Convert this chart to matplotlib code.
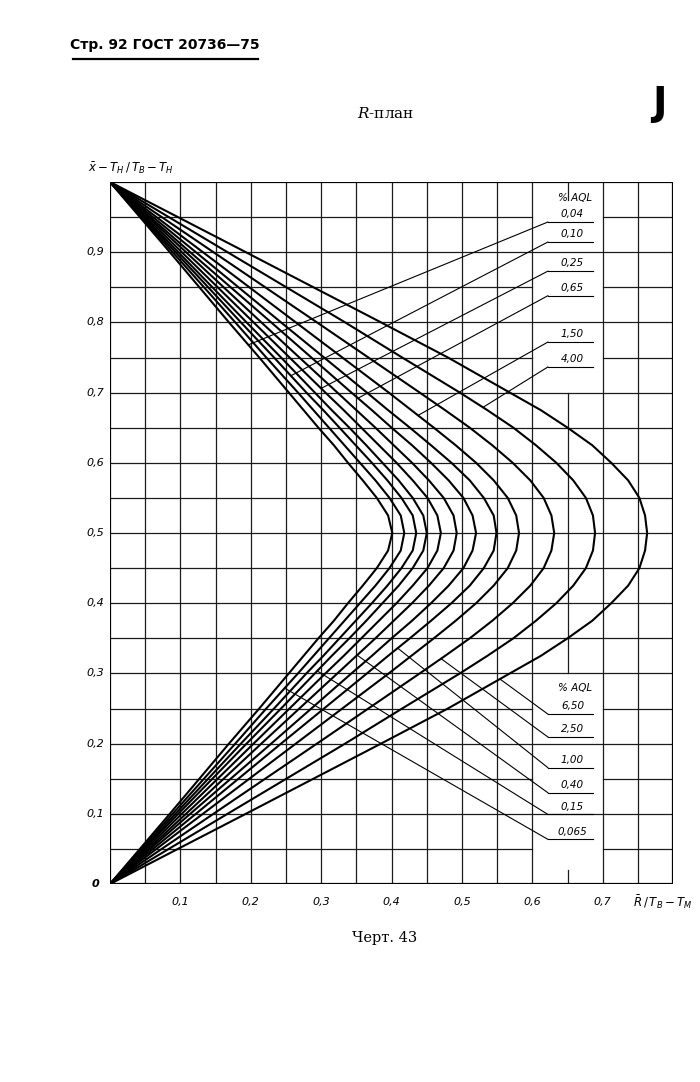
import numpy as np
import matplotlib
matplotlib.use("Agg")
import matplotlib.pyplot as plt

# ---------------- data ----------------
# lower half of each curve; the chart is symmetric about y = 0.5
Y_LEVELS = [0.0, 0.1, 0.2, 0.25, 0.3, 0.325, 0.35, 0.375, 0.4, 0.425, 0.45,
            0.475, 0.5]

r_004  = [0, 0.085, 0.169, 0.212, 0.254, 0.275, 0.296, 0.318, 0.338, 0.359, 0.379, 0.395, 0.401]
r_0065 = [0, 0.089, 0.178, 0.222, 0.267, 0.289, 0.311, 0.333, 0.355, 0.377, 0.397, 0.413, 0.418]
r_010  = [0, 0.093, 0.186, 0.233, 0.279, 0.303, 0.326, 0.349, 0.372, 0.394, 0.414, 0.430, 0.435]
r_015  = [0, 0.097, 0.194, 0.243, 0.291, 0.315, 0.340, 0.364, 0.387, 0.410, 0.430, 0.445, 0.450]
r_025  = [0, 0.102, 0.204, 0.255, 0.306, 0.332, 0.357, 0.382, 0.407, 0.430, 0.451, 0.465, 0.470]
r_040  = [0, 0.108, 0.215, 0.269, 0.323, 0.350, 0.377, 0.403, 0.429, 0.453, 0.474, 0.488, 0.4925]
r_065  = [0, 0.114, 0.229, 0.286, 0.343, 0.372, 0.400, 0.429, 0.456, 0.481, 0.502, 0.515, 0.520]
r_100  = [0, 0.122, 0.243, 0.304, 0.365, 0.395, 0.426, 0.456, 0.485, 0.511, 0.531, 0.545, 0.549]
r_150  = [0, 0.132, 0.264, 0.330, 0.396, 0.428, 0.460, 0.491, 0.520, 0.545, 0.565, 0.577, 0.581]
r_250  = [0, 0.147, 0.294, 0.367, 0.440, 0.476, 0.511, 0.543, 0.572, 0.597, 0.616, 0.627, 0.631]
r_400  = [0, 0.167, 0.334, 0.415, 0.497, 0.536, 0.573, 0.605, 0.634, 0.658, 0.676, 0.686, 0.689]
r_650  = [0, 0.193, 0.385, 0.480, 0.568, 0.612, 0.650, 0.685, 0.712, 0.736, 0.752, 0.760, 0.763]

CURVES = {"0,04": r_004, "0,065": r_0065, "0,10": r_010, "0,15": r_015,
          "0,25": r_025, "0,40": r_040, "0,65": r_065, "1,00": r_100,
          "1,50": r_150, "2,50": r_250, "4,00": r_400, "6,50": r_650}

# labels at the upper right (leaders go to the upper branches)
TOP_LABELS = ["0,04", "0,10", "0,25", "0,65", "1,50", "4,00"]
TOP_UL_Y = [0.943, 0.9145, 0.873, 0.838, 0.772, 0.7365]
TOP_TIP_Y = [0.768, 0.724, 0.706, 0.692, 0.6675, 0.679]
# labels at the lower right (leaders go to the lower branches)
BOT_LABELS = ["6,50", "2,50", "1,00", "0,40", "0,15", "0,065"]
BOT_UL_Y = [0.242, 0.2094, 0.1657, 0.130, 0.0991, 0.0636]
BOT_TIP_Y = [0.292, 0.321, 0.336, 0.326, 0.3035, 0.279]

X_TICKS = [0.1, 0.2, 0.3, 0.4, 0.5, 0.6, 0.7]
X_TICK_LABELS = ["0,1", "0,2", "0,3", "0,4", "0,5", "0,6", "0,7"]
Y_TICKS = [0.1, 0.2, 0.3, 0.4, 0.5, 0.6, 0.7, 0.8, 0.9]
Y_TICK_LABELS = ["0,1", "0,2", "0,3", "0,4", "0,5", "0,6", "0,7", "0,8", "0,9"]

# ---------------- figure ----------------
W, H = 700, 1082
fig = plt.figure(figsize=(W / 100, H / 100), dpi=100)
fig.patch.set_facecolor("white")
ax = fig.add_axes([110 / W, (H - 884) / H, 563.2 / W, 702 / H])
ax.set_xlim(0, 0.8)
ax.set_ylim(0, 1)
ax.axis("off")

GRID_C = "#1c1c1c"
GRID_LW = 0.9

# label boxes (x0, x1, y0, y1) where minor grid lines are omitted
BOXES = [(0.6, 0.7, 0.7, 1.0), (0.6, 0.7, 0.0, 0.3)]

xs_grid = np.round(np.arange(0.05, 0.8, 0.05), 2)
ys_grid = np.round(np.arange(0.05, 1.0, 0.05), 2)

for xg in xs_grid:
    if abs(xg - 0.65) < 1e-6:
        ax.plot([xg, xg], [0.3, 0.7], color=GRID_C, lw=GRID_LW)
        ax.plot([xg, xg], [0.0, 0.02], color=GRID_C, lw=GRID_LW)
        ax.plot([xg, xg], [0.975, 1.0], color=GRID_C, lw=GRID_LW)
    else:
        ax.plot([xg, xg], [0, 1], color=GRID_C, lw=GRID_LW)

for yg in ys_grid:
    minor = abs(round(yg * 20) % 2 - 1) < 1e-6
    in_box = any(b[2] < yg < b[3] for b in BOXES)
    if minor and in_box:
        ax.plot([0, 0.6], [yg, yg], color=GRID_C, lw=GRID_LW)
        ax.plot([0.7, 0.8], [yg, yg], color=GRID_C, lw=GRID_LW)
    else:
        ax.plot([0, 0.8], [yg, yg], color=GRID_C, lw=GRID_LW)

# frame
ax.plot([0, 0.8, 0.8, 0, 0], [0, 0, 1, 1, 0], color="black", lw=1.6,
        solid_joinstyle="miter")

# curves
yl = np.array(Y_LEVELS)
for name, r in CURVES.items():
    r = np.array(r)
    xx = np.concatenate([r, r[-2::-1]])
    yy = np.concatenate([yl, 1 - yl[-2::-1]])
    ax.plot(xx, yy, color="black", lw=1.5, solid_joinstyle="round",
            solid_capstyle="round")

lab_font = dict(family="DejaVu Sans", style="italic", fontsize=7.5,
                color="black")
UL_X0, UL_X1 = 0.622, 0.686

# top labels
ax.text(0.660, 0.977, "% AQL", ha="center", va="center", **lab_font)
for lab, uy, ty in zip(TOP_LABELS, TOP_UL_Y, TOP_TIP_Y):
    r = np.array(CURVES[lab])
    tx = np.interp(1 - ty, yl, r)
    ax.plot([UL_X0, UL_X1], [uy, uy], color="black", lw=0.8)
    ax.plot([UL_X0, tx], [uy, ty], color="black", lw=0.8)
    ax.text(0.657, uy + 0.004, lab, ha="center", va="bottom", **lab_font)

# bottom labels
ax.text(0.660, 0.279, "% AQL", ha="center", va="center", **lab_font)
for lab, uy, ty in zip(BOT_LABELS, BOT_UL_Y, BOT_TIP_Y):
    r = np.array(CURVES[lab])
    tx = np.interp(ty, yl, r)
    ax.plot([UL_X0, UL_X1], [uy, uy], color="black", lw=0.8)
    ax.plot([UL_X0, tx], [uy, ty], color="black", lw=0.8)
    ax.text(0.657, uy + 0.004, lab, ha="center", va="bottom", **lab_font)

# tick labels
tick_font = dict(family="DejaVu Sans", style="italic", fontsize=8,
                 color="black")
for xv, xt in zip(X_TICKS, X_TICK_LABELS):
    ax.text(xv, -0.026, xt, ha="center", va="center", **tick_font)
for yv, yt in zip(Y_TICKS, Y_TICK_LABELS):
    ax.text(-0.008, yv, yt, ha="right", va="center", **tick_font)
ax.text(-0.02, 0.0, "0", ha="center", va="center", fontweight="bold",
        **tick_font)

ax.text(0.743, -0.026, r"$\bar{R}\,/\,T_B-T_M$", ha="left", va="center",
        fontsize=8.5)
ax.text(-0.031, 1.02, r"$\bar{x}-T_H\,/\,T_B-T_H$", ha="left", va="center",
        fontsize=8.5)

# page texts
fig.text(70 / W, 1 - 45 / H, "Стр. 92 ГОСТ 20736—75", family="DejaVu Sans",
         fontweight="bold", fontsize=10, ha="left", va="center")
fig.add_artist(plt.Line2D([73 / W, 258 / W], [1 - 59 / H, 1 - 59 / H],
                          color="black", lw=1.6))
fig.text(386 / W, 1 - 113 / H, r"$R$-план", family="DejaVu Serif",
         math_fontfamily="dejavuserif", fontsize=11, ha="center",
         va="center")
fig.text(659 / W, 1 - 104 / H, "J", family="DejaVu Sans", fontweight="bold",
         fontsize=28, ha="center", va="center")
fig.text(385 / W, 1 - 938 / H, "Черт. 43", family="DejaVu Serif",
         fontsize=10.5, ha="center", va="center")

fig.savefig("out.png", dpi=100, facecolor="white")
